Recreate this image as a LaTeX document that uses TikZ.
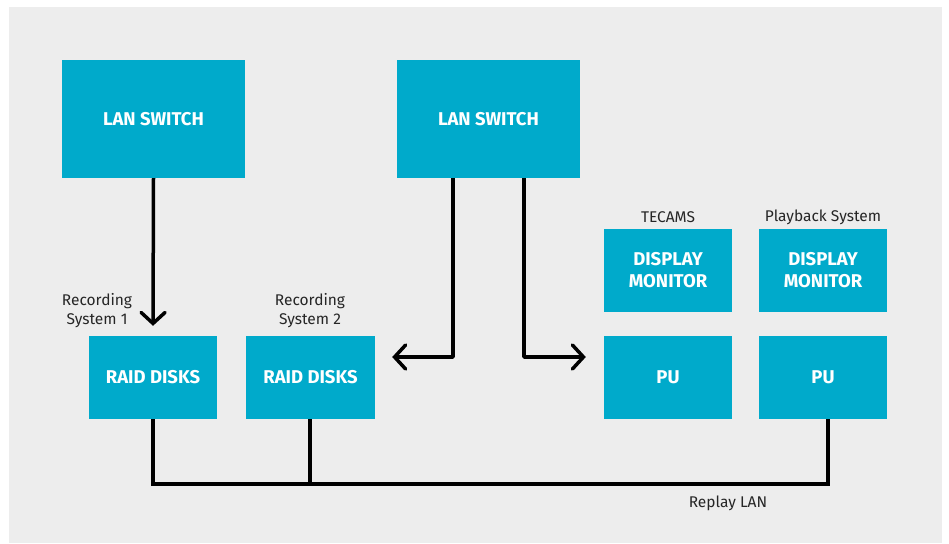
\documentclass[tikz,border=0pt]{standalone}
\usepackage{fontspec}
\setmainfont{Fira Sans}
\usetikzlibrary{arrows.meta}
\definecolor{boxblue}{HTML}{00AACB}
\definecolor{bggray}{HTML}{EDEDED}
\begin{document}
\begin{tikzpicture}[x=1pt,y=-1pt,
  blk/.style={fill=boxblue,draw=none,text=white,font=\fontsize{18.5}{22}\selectfont\bfseries,align=center,inner sep=0pt},
  lbl/.style={font=\fontsize{15.5}{19}\selectfont,text=black!85,align=center,inner sep=0pt},
  wire/.style={line width=3.5pt,black},
  arr/.style={wire,-{Straight Barb[length=11pt,width=24pt,line cap=round,line width=3.5pt]}}
]
\useasboundingbox (0,0) rectangle (949,543);
\fill[bggray] (9,7) rectangle (942,543);
% boxes
\node[blk,minimum width=183pt,minimum height=118pt] (lan1) at (153.5,119) {LAN SWITCH};
\node[blk,minimum width=183pt,minimum height=118pt] (lan2) at (488.5,119) {LAN SWITCH};
\node[blk,minimum width=128pt,minimum height=83pt] (raid1) at (153,377.5) {RAID DISKS};
\node[blk,minimum width=129pt,minimum height=83pt] (raid2) at (310.5,377.5) {RAID DISKS};
\node[blk,minimum width=128pt,minimum height=83pt] (dm1) at (668,270.5) {DISPLAY\\MONITOR};
\node[blk,minimum width=128pt,minimum height=83pt] (dm2) at (823,270.5) {DISPLAY\\MONITOR};
\node[blk,minimum width=128pt,minimum height=83pt] (pu1) at (668,377.5) {PU};
\node[blk,minimum width=128pt,minimum height=83pt] (pu2) at (823,377.5) {PU};
% labels
\node[lbl] (l1) at (97,310.5) {Recording\\System 1};
\node[lbl] (l2) at (310,310.5) {Recording\\System 2};
\node[lbl] (l3) at (668,217.5) {TECAMS};
\node[lbl] (l4) at (823,217.5) {Playback System};
\node[lbl] (l5) at (728,503.5) {Replay LAN};
% arrows
\coordinate (c1) at (453,357);
\coordinate (c2) at (524,357);
\draw[arr] (lan1.south) -- ([yshift=10pt]raid1.north);
\draw[arr,line join=round] (lan2.south -| c1) -- (c1) -- ([xshift=17pt]raid2.east |- c1);
\draw[arr,line join=round] (lan2.south -| c2) -- (c2) -- ([xshift=-18pt]pu1.west |- c2);
% bus
\coordinate (b1) at (153,484);
\coordinate (b2) at (828,484);
\draw[wire,line join=miter] (raid1.south) -- (b1) -- (b2) -- (pu2.south -| b2);
\draw[wire] (raid2.south -| 310,0) -- (310,484);
\end{tikzpicture}
\end{document}
